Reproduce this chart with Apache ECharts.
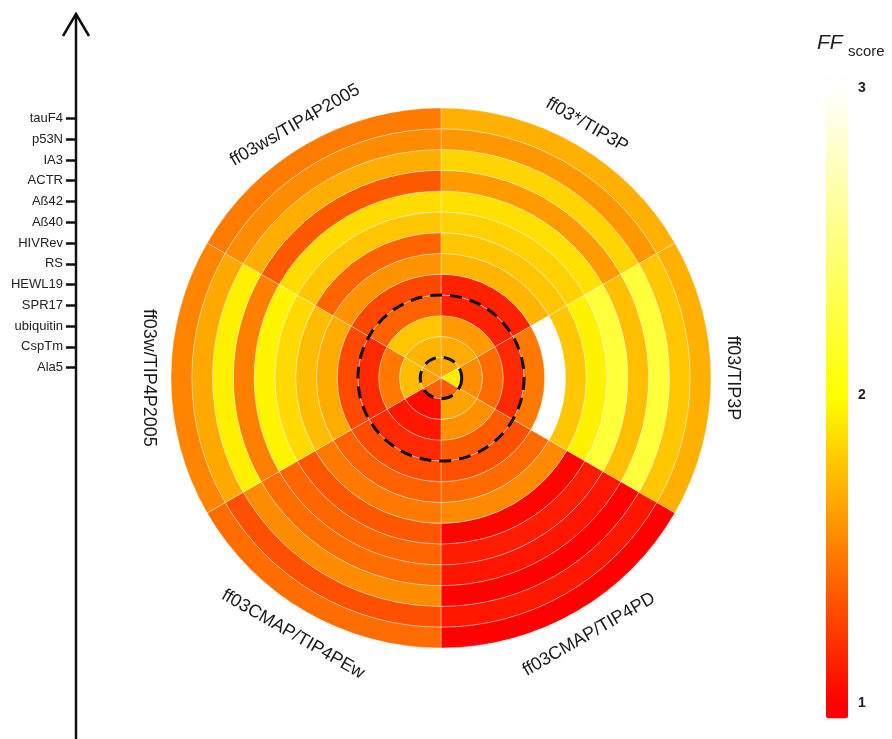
<!DOCTYPE html>
<html>
<head>
<meta charset="utf-8">
<script src="https://cdn.jsdelivr.net/npm/echarts@6/dist/echarts.min.js"></script>
<style>
  html, body { margin: 0; padding: 0; background: #fff; }
  #chart { width: 892px; height: 739px; }
</style>
</head>
<body>
<div id="chart"></div>
<script>
// Proteins, ordered from the innermost ring outwards
const proteins = ['Ala5', 'CspTm', 'ubiquitin', 'SPR17', 'HEWL19', 'RS', 'HIVRev',
                  'Aß40', 'Aß42', 'ACTR', 'IA3', 'p53N', 'tauF4'];

// Force-field / water-model combinations, clockwise from 12 o'clock
const forceFields = ['ff03*/TIP3P', 'ff03/TIP3P', 'ff03CMAP/TIP4PD',
                     'ff03CMAP/TIP4PEw', 'ff03w/TIP4P2005', 'ff03ws/TIP4P2005'];

// FF score per protein (same order as `proteins`) for each force field
const ff03starTip3p    = [1.66, 1.67, 1.61, 1.13, 1.13, 1.71, 1.77, 1.82, 1.88, 1.61, 1.83, 1.59, 1.69];
const ff03Tip3p        = [1.93, 1.55, 1.42, 1.16, 1.47, 3.00, 1.78, 1.95, 2.23, 1.75, 2.23, 1.78, 1.69];
const ff03cmapTip4pd   = [1.36, 1.64, 1.57, 1.36, 1.31, 1.42, 1.54, 1.02, 1.11, 1.08, 1.00, 1.09, 1.00];
const ff03cmapTip4pew  = [1.38, 1.04, 1.09, 1.16, 1.30, 1.38, 1.47, 1.34, 1.40, 1.43, 1.55, 1.31, 1.43];
const ff03wTip4p2005   = [1.63, 1.74, 1.47, 1.16, 1.29, 1.67, 1.74, 1.85, 1.96, 1.50, 1.94, 1.66, 1.52];
const ff03wsTip4p2005  = [1.63, 1.71, 1.77, 1.38, 1.28, 1.58, 1.39, 1.77, 1.86, 1.35, 1.68, 1.55, 1.48];

const scoresByForceField = [ff03starTip3p, ff03Tip3p, ff03cmapTip4pd,
                            ff03cmapTip4pew, ff03wTip4p2005, ff03wsTip4p2005];

// Dashed circles are drawn just outside these rings (group separators)
const groupEdges = ['Ala5', 'SPR17'];

// Colour-bar tick values
const scoreTicks = [1, 2, 3];

// ---- layout ----
const CX = 441, CY = 378, R = 270;
const FONT = '"Liberation Sans", Arial, Helvetica, sans-serif';

// red -> yellow (1..2), yellow -> white (2..3)
function scoreColor(v) {
  const c = Math.max(1, Math.min(3, v));
  let g, b;
  if (c <= 2) { g = 255 * (c - 1); b = 0; } else { g = 255; b = 255 * (c - 2); }
  return 'rgb(255,' + Math.round(g) + ',' + Math.round(b) + ')';
}
const VM_MIN = 0.95, VM_MAX = 3.03;
const rampStops = [];
for (let k = 0; k <= 200; k++) rampStops.push(scoreColor(VM_MIN + (VM_MAX - VM_MIN) * k / 200));

// cells: [ringIndex, forceFieldIndex, score]
const cellData = [];
scoresByForceField.forEach((arr, j) => arr.forEach((v, i) => cellData.push([i, j, v])));

const chart = echarts.init(document.getElementById('chart'), null, { renderer: 'canvas' });

const barTop = 88, barBottom = 703; // positions of score 3 and score 1
const perUnit = (barBottom - barTop) / (scoreTicks[scoreTicks.length - 1] - scoreTicks[0]);

chart.setOption({
  animation: false,
  backgroundColor: '#ffffff',
  polar: { center: [CX, CY], radius: [0, R] },
  angleAxis: {
    type: 'category', data: forceFields, startAngle: 90, clockwise: true,
    boundaryGap: true, show: false
  },
  radiusAxis: { type: 'category', data: proteins, show: false },
  grid: [
    // protein axis on the left
    { left: 76, width: 10, top: CY - R, height: R, containLabel: false },
    // colour-bar labels
    { left: 826, width: 22, top: barTop, height: barBottom - barTop }
  ],
  xAxis: [
    { type: 'value', gridIndex: 0, show: false },
    { type: 'value', gridIndex: 1, show: false }
  ],
  yAxis: [
    {
      type: 'category', gridIndex: 0, data: proteins, position: 'left',
      axisLine: { show: false },
      axisTick: { show: true, alignWithLabel: true, length: 10, lineStyle: { color: '#111', width: 2.5 } },
      axisLabel: { margin: 13, fontSize: 13, color: '#222', fontFamily: FONT },
      splitLine: { show: false }
    },
    {
      type: 'value', gridIndex: 1, min: scoreTicks[0], max: scoreTicks[scoreTicks.length - 1], interval: 1,
      position: 'right',
      axisLine: { show: false },
      axisTick: { show: true, inside: true, length: 4, lineStyle: { color: 'rgba(255,255,255,0.8)', width: 1 } },
      axisLabel: { margin: 10, fontSize: 14, fontWeight: 'bold', color: '#222', fontFamily: FONT },
      splitLine: { show: false }
    },
    {
      type: 'value', gridIndex: 1, min: scoreTicks[0], max: scoreTicks[scoreTicks.length - 1], interval: 1,
      position: 'left',
      axisLine: { show: false },
      axisTick: { show: true, inside: true, length: 4, lineStyle: { color: 'rgba(255,255,255,0.8)', width: 1 } },
      axisLabel: { show: false },
      splitLine: { show: false }
    }
  ],
  visualMap: {
    type: 'continuous',
    seriesIndex: 0,
    dimension: 2,
    min: VM_MIN, max: VM_MAX,
    orient: 'vertical',
    left: 826,
    top: barBottom - (VM_MAX - scoreTicks[0]) * perUnit,
    itemWidth: 22,
    itemHeight: (VM_MAX - VM_MIN) * perUnit,
    padding: 0,
    calculable: false,
    hoverLink: false,
    text: null,
    showLabel: false,
    inRange: { color: rampStops }
  },
  graphic: [
    // long vertical arrow of the protein axis
    { type: 'line', shape: { x1: 76, y1: 739, x2: 76, y2: 14 }, style: { stroke: '#111', lineWidth: 2.5 }, z: 10 },
    { type: 'polyline', shape: { points: [[63, 36], [76, 14], [89, 36]] }, style: { stroke: '#111', lineWidth: 2.5, fill: null }, z: 10 },
    // colour-bar title
    { type: 'text', left: 817, top: 33, style: { text: 'FF', font: 'italic 21px ' + FONT, fill: '#222' } },
    { type: 'text', left: 848, top: 44, style: { text: 'score', font: '15px ' + FONT, fill: '#222' } }
  ],
  series: [
    {
      // heat-map cells as ring sectors
      type: 'custom',
      coordinateSystem: 'polar',
      data: cellData,
      silent: true,
      z: 2,
      renderItem: function (params, api) {
        const c = api.coord([api.value(0), api.value(1)]);
        const s = api.size([1, 1], [api.value(0), api.value(1)]);
        const rMid = c[2], aMid = c[3];
        return {
          type: 'sector',
          shape: {
            cx: params.coordSys.cx, cy: params.coordSys.cy,
            r0: rMid - s[0] / 2, r: rMid + s[0] / 2,
            startAngle: -aMid - s[1] / 2, endAngle: -aMid + s[1] / 2,
            clockwise: true
          },
          style: { fill: api.visual('color'), stroke: 'rgba(255,255,255,0.45)', lineWidth: 0.8 }
        };
      }
    },
    {
      // dashed group separators
      type: 'custom',
      coordinateSystem: 'polar',
      data: groupEdges.map(p => [proteins.indexOf(p), 0]),
      silent: true,
      z: 5,
      renderItem: function (params, api) {
        const c = api.coord([api.value(0), api.value(1)]);
        const s = api.size([1, 1], [api.value(0), api.value(1)]);
        return {
          type: 'circle',
          shape: { cx: params.coordSys.cx, cy: params.coordSys.cy, r: c[2] + s[0] / 2 },
          style: { fill: null, stroke: '#111', lineWidth: 3, lineDash: [12, 8] }
        };
      }
    },
    {
      // force-field names around the rim
      type: 'custom',
      coordinateSystem: 'polar',
      data: forceFields.map((f, j) => [proteins.length - 1, j]),
      silent: true,
      z: 6,
      renderItem: function (params, api) {
        const j = api.value(1);
        const c = api.coord([api.value(0), j]);
        const a = c[3];
        let rot = a * 180 / Math.PI - 90;
        while (rot >= 90) rot -= 180;
        while (rot < -90) rot += 180;
        // lower labels sit a little further from the rim
        const rr = params.coordSys.r + (Math.sin(a) < -0.5 ? 26 : 22);
        return {
          type: 'text',
          x: params.coordSys.cx + rr * Math.cos(a),
          y: params.coordSys.cy - rr * Math.sin(a),
          rotation: rot * Math.PI / 180,
          style: {
            text: forceFields[j], font: '18px ' + FONT, fill: '#1a1a1a',
            align: 'center', verticalAlign: 'middle'
          }
        };
      }
    }
  ]
});
</script>
</body>
</html>
